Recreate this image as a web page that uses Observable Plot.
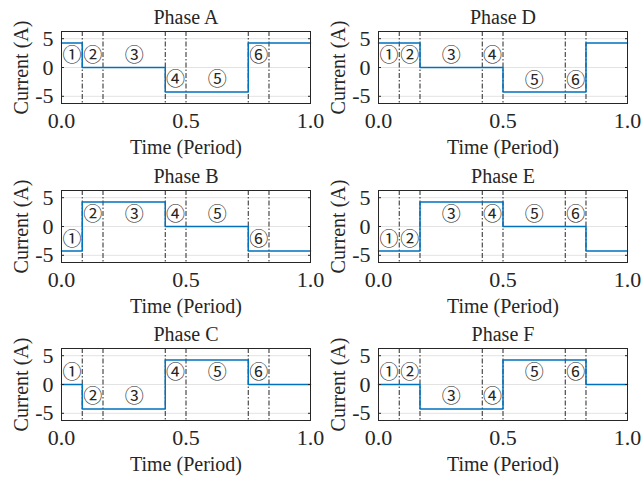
<!DOCTYPE html>
<html>
<head>
<meta charset="utf-8">
<script src="https://cdn.jsdelivr.net/npm/d3@7"></script>
<script src="https://cdn.jsdelivr.net/npm/@observablehq/plot@0.6"></script>
<style>
  html, body { margin: 0; padding: 0; background: white; }
  #chart { position: relative; width: 641px; height: 480px; overflow: hidden; background: white; }
  #chart svg { position: absolute; }
</style>
</head>
<body>
<div id="chart"></div>
<script>
// Segment boundaries (fraction of period)
const segmentEdges = [0, 0.0833, 0.1667, 0.4167, 0.5, 0.75, 0.8333, 1.0];
// Dash-dot divider positions
const dividers = [0.0833, 0.1667, 0.4167, 0.5, 0.75, 0.8333];
// Region label positions and texts
const labelX = [0.042, 0.125, 0.292, 0.458, 0.625, 0.792];
const labelText = ["①", "②", "③", "④", "⑤", "⑥"];

// Current per segment (step-after, last value repeated at t=1)
const phaseA = [4.24, 0, 0, -4.24, -4.24, 4.24, 4.24, 4.24];
const phaseB = [-4.24, 4.24, 4.24, 0, 0, -4.24, -4.24, -4.24];
const phaseC = [0, -4.24, -4.24, 4.24, 4.24, 0, 0, 0];
const phaseD = [4.24, 4.24, 0, 0, -4.24, -4.24, 4.24, 4.24];
const phaseE = [-4.24, -4.24, 4.24, 4.24, 0, 0, -4.24, -4.24];
const phaseF = [0, 0, -4.24, -4.24, 4.24, 4.24, 0, 0];

// Label heights per phase
const labelYA = [2, 2, 2, -2.2, -2.2, 2];
const labelYB = [-2.3, 2, 2, 2, 2, -2.3];
const labelYC = [2, -2.2, -2.2, 2, 2, 2];
const labelYD = [2, 2, 2, 2, -2.3, -2.3];
const labelYE = [-2.3, -2.3, 2, 2, 2, 2];
const labelYF = [2, 2, -2.2, -2.2, 2, 2];

const titles = ["Phase A", "Phase B", "Phase C", "Phase D", "Phase E", "Phase F"];
const xTicks = [0, 0.5, 1.0];
const yTicks = [-5, 0, 5];
const xLabel = "Time (Period)";
const yLabel = "Current (A)";

const panels = [
  {title: titles[0], values: phaseA, ly: labelYA, col: 0, row: 0},
  {title: titles[1], values: phaseB, ly: labelYB, col: 0, row: 1},
  {title: titles[2], values: phaseC, ly: labelYC, col: 0, row: 2},
  {title: titles[3], values: phaseD, ly: labelYD, col: 1, row: 0},
  {title: titles[4], values: phaseE, ly: labelYE, col: 1, row: 1},
  {title: titles[5], values: phaseF, ly: labelYF, col: 1, row: 2}
];

const rowTops = [0, 159, 317];
const colLefts = [0, 320];
const container = document.getElementById("chart");
const ink = "#262626";
const serif = "'Liberation Serif', 'Times New Roman', serif";

for (const p of panels) {
  const data = segmentEdges.map((t, i) => ({t, v: p.values[i]}));
  const labels = labelX.map((x, i) => ({x, y: p.ly[i], s: labelText[i]}));
  const w = p.col === 0 ? 320 : 321;
  const svg = Plot.plot({
    width: w,
    height: 160,
    marginLeft: p.col === 0 ? 61 : 58,
    marginRight: p.col === 0 ? 10 : 14,
    marginTop: 31,
    marginBottom: 57,
    style: {fontFamily: serif, fontSize: "20px", color: ink, background: "transparent", overflow: "visible"},
    x: {domain: [0, 1]},
    y: {domain: [-6.25, 6.25]},
    marks: [
      Plot.gridY(yTicks, {stroke: "#e3e3e3", strokeOpacity: 1}),
      Plot.ruleX(dividers, {stroke: ink, strokeWidth: 1, strokeDasharray: "5,2,1.5,2"}),
      Plot.line(data, {x: "t", y: "v", curve: "step-after", stroke: "#0072BD", strokeWidth: 1.5}),
      Plot.text(labels, {x: "x", y: "y", text: "s", fontFamily: "'Noto Sans CJK JP', 'DejaVu Sans', sans-serif", fontSize: 19, fill: ink}),
      Plot.frame({stroke: ink, strokeWidth: 1}),
      Plot.axisX(xTicks, {tickSize: 0, tickPadding: 9, tickFormat: d3.format(".1f"), label: null, fontSize: 22}),
      Plot.axisY(yTicks, {tickSize: 0, tickPadding: 8, tickFormat: d => d < 0 ? "-" + Math.abs(d) : String(d), label: null, fontSize: 22}),
      Plot.axisY(yTicks, {anchor: "right", tickSize: -3, text: null, label: null}),
      Plot.axisY(yTicks, {anchor: "left", tickSize: -3, text: null, label: null}),
      Plot.text([p.title], {frameAnchor: "top", dy: -14, lineAnchor: "middle", text: d => d, fontSize: 20, fill: ink}),
      Plot.text([xLabel], {frameAnchor: "bottom", dy: 44, lineAnchor: "middle", text: d => d, fontSize: 20, fill: ink}),
      Plot.text([yLabel], {frameAnchor: "left", dx: -40, rotate: -90, textAnchor: "middle", lineAnchor: "middle", text: d => d, fontSize: 20, fill: ink})
    ]
  });
  svg.style.left = colLefts[p.col] + "px";
  svg.style.top = rowTops[p.row] + "px";
  container.appendChild(svg);
}
</script>
</body>
</html>
